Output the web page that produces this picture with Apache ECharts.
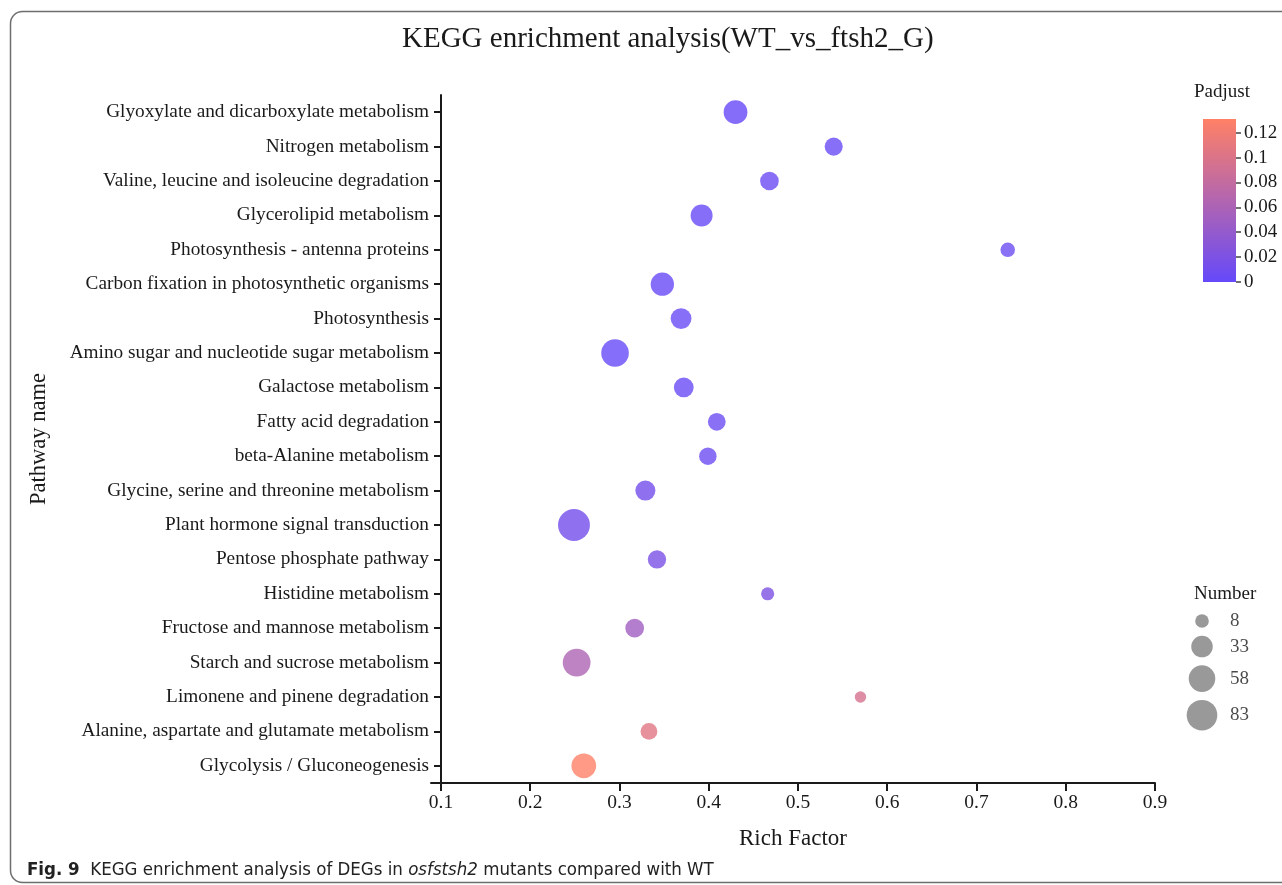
<!DOCTYPE html>
<html>
<head>
<meta charset="utf-8">
<title>KEGG enrichment analysis</title>
<script src="https://cdn.jsdelivr.net/npm/echarts@6/dist/echarts.min.js"></script>
<style>
  html, body { margin: 0; padding: 0; background: #fff; }
  #chart { width: 1282px; height: 885px; }
</style>
</head>
<body>
<div id="chart"></div>
<script>
// pathways, top to bottom
const pathways = [
  'Glyoxylate and dicarboxylate metabolism',
  'Nitrogen metabolism',
  'Valine, leucine and isoleucine degradation',
  'Glycerolipid metabolism',
  'Photosynthesis - antenna proteins',
  'Carbon fixation in photosynthetic organisms',
  'Photosynthesis',
  'Amino sugar and nucleotide sugar metabolism',
  'Galactose metabolism',
  'Fatty acid degradation',
  'beta-Alanine metabolism',
  'Glycine, serine and threonine metabolism',
  'Plant hormone signal transduction',
  'Pentose phosphate pathway',
  'Histidine metabolism',
  'Fructose and mannose metabolism',
  'Starch and sucrose metabolism',
  'Limonene and pinene degradation',
  'Alanine, aspartate and glutamate metabolism',
  'Glycolysis / Gluconeogenesis'
]
const richFactor = [0.430, 0.540, 0.468, 0.392, 0.735, 0.348, 0.369, 0.295, 0.372, 0.409,
  0.399, 0.329, 0.249, 0.342, 0.466, 0.317, 0.252, 0.570, 0.333, 0.260]
const geneNumber = [43, 20, 22, 35, 10, 41, 30, 64, 26, 19,
  18, 27, 92, 21, 7, 22, 65, 4, 16, 48]
const padjust = [0.001, 0.004, 0.005, 0.003, 0.006, 0.003, 0.004, 0.002, 0.004, 0.006,
  0.007, 0.012, 0.012, 0.018, 0.02, 0.05, 0.062, 0.095, 0.105, 0.13]

const xTicks = [0.1, 0.2, 0.3, 0.4, 0.5, 0.6, 0.7, 0.8, 0.9]
const padjTicks = [0, 0.02, 0.04, 0.06, 0.08, 0.1, 0.12]
const padjMax = 0.131
const sizeLegend = [8, 33, 58, 83]

const lowColor = '#6549fa'
const highColor = '#ff8166'
const serif = 'Liberation Serif'
const ink = '#1a1a1a'
const captionFont = 'Liberation Sans Narrow, DejaVu Sans Condensed, sans-serif'

// bubble diameter from gene number
function bubble(n) {
  return 6 + 2.7 * Math.sqrt(n)
}

const points = pathways.map((p, i) => [richFactor[i], p, geneNumber[i], padjust[i]])

// stack the size legend circles with a small gap
const legendY = []
sizeLegend.forEach((n, i) => {
  if (i === 0) legendY.push(0)
  else legendY.push(legendY[i - 1] + bubble(sizeLegend[i - 1]) / 2 + bubble(n) / 2 + 8)
})
const legendPoints = sizeLegend.map((n, i) => [1, legendY[i], n])

const myChart = echarts.init(document.getElementById('chart'))
const option = {
  backgroundColor: '#fff',
  animation: false,
  textStyle: { fontFamily: serif, color: ink },
  title: [
    {
      text: 'KEGG enrichment analysis(WT_vs_ftsh2_G)',
      left: 397,
      top: 20,
      textStyle: { fontFamily: serif, fontSize: 29, fontWeight: 'normal', color: ink }
    },
    {
      text: 'Padjust',
      left: 1189,
      top: 78,
      textStyle: { fontFamily: serif, fontSize: 19, fontWeight: 'normal', color: ink }
    },
    {
      text: 'Number',
      left: 1189,
      top: 580,
      textStyle: { fontFamily: serif, fontSize: 19, fontWeight: 'normal', color: ink }
    },
    {
      text: '{b|Fig. 9}  KEGG enrichment analysis of DEGs in {i|osfstsh2} mutants compared with WT',
      left: 22,
      top: 856,
      textStyle: {
        fontFamily: captionFont,
        fontSize: 18.5,
        fontWeight: 'normal',
        color: '#222',
        rich: {
          b: { fontFamily: captionFont, fontSize: 18.5, fontWeight: 'bold', color: '#222' },
          i: { fontFamily: captionFont, fontSize: 18.5, fontStyle: 'italic', color: '#222' }
        }
      }
    }
  ],
  graphic: [
    {
      type: 'rect',
      silent: true,
      shape: { x: 10.5, y: 11.5, width: 1400, height: 871, r: 12 },
      style: { fill: 'none', stroke: '#6e6e6e', lineWidth: 1.5 }
    }
  ],
  visualMap: {
    type: 'continuous',
    show: false,
    seriesIndex: 0,
    dimension: 3,
    min: 0,
    max: padjMax,
    inRange: { color: [lowColor, highColor] }
  },
  grid: [
    { left: 431, right: 127, top: 95, bottom: 102 },
    {
      // colour bar for Padjust
      left: 1203, top: 119, width: 33, height: 163,
      show: true,
      borderWidth: 0,
      backgroundColor: new echarts.graphic.LinearGradient(0, 1, 0, 0, [
        { offset: 0, color: lowColor },
        { offset: 1, color: highColor }
      ])
    },
    { left: 1180, top: 621, width: 44, height: 100 }
  ],
  xAxis: [
    {
      gridIndex: 0,
      type: 'value',
      min: 0.0888,
      max: 0.9,
      name: 'Rich Factor',
      nameLocation: 'middle',
      nameGap: 44,
      nameTextStyle: { fontFamily: serif, fontSize: 23, color: ink },
      splitLine: { show: false },
      axisLine: { show: true, onZero: false, lineStyle: { color: ink, width: 2 } },
      axisTick: { show: true, customValues: xTicks, length: 8, lineStyle: { color: ink, width: 2 } },
      axisLabel: { show: true, customValues: xTicks, fontFamily: serif, fontSize: 19.5, color: ink, margin: 10 }
    },
    { gridIndex: 1, type: 'value', min: 0, max: 1, show: false },
    { gridIndex: 2, type: 'value', min: 0, max: 2, show: false }
  ],
  yAxis: [
    {
      gridIndex: 0,
      type: 'category',
      data: pathways,
      inverse: true,
      offset: -10,
      name: 'Pathway name',
      nameLocation: 'middle',
      nameGap: 390,
      nameTextStyle: { fontFamily: serif, fontSize: 22.5, color: ink },
      axisLine: { show: true, onZero: false, lineStyle: { color: ink, width: 2 } },
      axisTick: { show: true, alignWithLabel: true, length: 7, lineStyle: { color: ink, width: 2 } },
      axisLabel: { show: true, fontFamily: serif, fontSize: 19.3, color: ink, margin: 12 },
      splitLine: { show: false }
    },
    {
      gridIndex: 1,
      type: 'value',
      min: 0,
      max: padjMax,
      position: 'right',
      axisLine: { show: false, onZero: false },
      splitLine: { show: false },
      axisTick: { show: true, customValues: padjTicks, length: 5, lineStyle: { color: '#444', width: 1.5 } },
      axisLabel: { show: true, customValues: padjTicks, fontFamily: serif, fontSize: 19, color: ink, margin: 8 }
    },
    { gridIndex: 2, type: 'value', min: 0, max: 100, inverse: true, show: false }
  ],
  series: [
    {
      name: 'KEGG',
      type: 'scatter',
      xAxisIndex: 0,
      yAxisIndex: 0,
      data: points,
      encode: { x: 0, y: 1 },
      symbolSize: v => bubble(v[2]),
      itemStyle: { opacity: 0.8 }
    },
    {
      name: 'padj axis',
      type: 'scatter',
      xAxisIndex: 1,
      yAxisIndex: 1,
      data: [],
      silent: true
    },
    {
      name: 'Number',
      type: 'scatter',
      xAxisIndex: 2,
      yAxisIndex: 2,
      clip: false,
      data: legendPoints,
      symbolSize: v => bubble(v[2]),
      itemStyle: { color: '#808080' },
      label: {
        show: true,
        position: 'inside',
        align: 'left',
        offset: [28, 0],
        formatter: p => p.value[2],
        fontFamily: serif,
        fontSize: 19,
        color: ink
      },
      silent: true
    }
  ]
}
option && myChart.setOption(option)
</script>
</body>
</html>
